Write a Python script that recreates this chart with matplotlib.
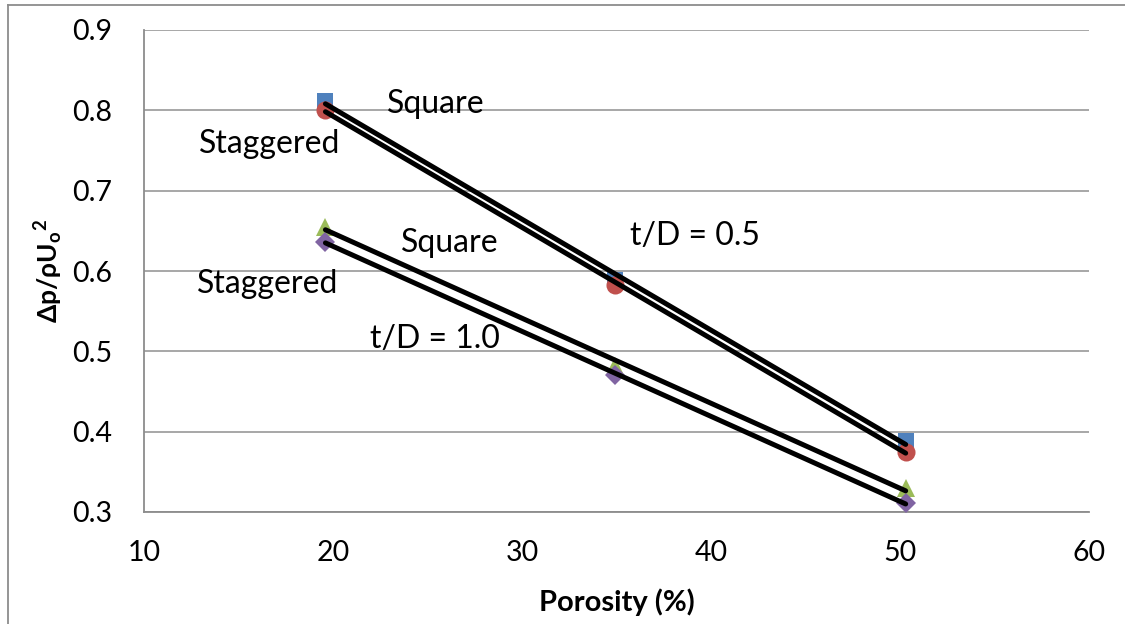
import numpy as np
import matplotlib
matplotlib.use("Agg")
import matplotlib.pyplot as plt
from matplotlib.lines import Line2D

plt.rcParams['font.family'] = ['Lato', 'DejaVu Sans']
plt.rcParams['mathtext.default'] = 'regular'

# porosity (%) of the three plates
porosity = [19.6, 34.9, 50.3]

# pressure drop coefficient, t/D = 0.5
square_05 = [0.812, 0.589, 0.388]
staggered_05 = [0.800, 0.583, 0.375]
# pressure drop coefficient, t/D = 1.0
square_10 = [0.655, 0.482, 0.330]
staggered_10 = [0.636, 0.471, 0.311]

series = [
    (square_05, "s", "#4F81BD", 12),
    (staggered_05, "o", "#C0504D", 13),
    (square_10, "^", "#9BBB59", 13),
    (staggered_10, "D", "#8064A2", 10),
]

# label text, x, y (baseline)
labels = [
    ("Square", 22.86, 0.797),
    ("Staggered", 12.91, 0.747),
    ("Square", 23.6, 0.624),
    ("Staggered", 12.80, 0.573),
    ("t/D = 1.0", 21.96, 0.504),
    ("t/D = 0.5", 35.71, 0.632),
]

fig = plt.figure(figsize=(11.25, 6.24), dpi=100)
ax = fig.add_axes([144/1125, 1-512/624, (1089-144)/1125, (512-30)/624])

x = np.array(porosity)
for vals, mk, col, ms in series:
    ax.plot(x, vals, linestyle="none", marker=mk, color=col, markersize=ms,
            markeredgewidth=0, zorder=3)
# linear trendlines
for vals, mk, col, ms in series:
    k, d = np.polyfit(x, vals, 1)
    xs = np.array([x[0], x[-1]])
    ax.plot(xs, k*xs + d, color="black", lw=3.6, solid_capstyle="round", zorder=4)

for txt, tx, ty in labels:
    ax.text(tx, ty, txt, fontsize=23, ha="left", va="baseline", zorder=5)

ax.set_xlim(10, 60)
ax.set_ylim(0.3, 0.9)
ax.set_xticks([10, 20, 30, 40, 50, 60])
ax.set_yticks([0.3, 0.4, 0.5, 0.6, 0.7, 0.8, 0.9])
ax.set_yticklabels(["0.3", "0.4", "0.5", "0.6", "0.7", "0.8", "0.9"])
ax.tick_params(length=0, labelsize=20.5)
ax.tick_params(axis="y", pad=23)
ax.tick_params(axis="x", pad=20)
ax.grid(axis="y", color="#A0A0A0", lw=1.3)
ax.set_axisbelow(True)
for s in ["top", "right"]:
    ax.spines[s].set_visible(False)
for s in ["left", "bottom"]:
    ax.spines[s].set_color("#8C8C8C")
    ax.spines[s].set_linewidth(1.3)

ax.set_xlabel("Porosity (%)", fontsize=21, fontweight="bold", labelpad=16)
ax.set_ylabel("Δp/ρU$_o$$^{2}$", fontsize=19, fontweight="bold", labelpad=5)

# outer chart border (top and left edges only)
fig.add_artist(Line2D([8/1125, 1], [1-5/624, 1-5/624], color="#8C8C8C", lw=1.3))
fig.add_artist(Line2D([8/1125, 8/1125], [0, 1-5/624], color="#8C8C8C", lw=1.3))

fig.savefig("out.png", dpi=100)
